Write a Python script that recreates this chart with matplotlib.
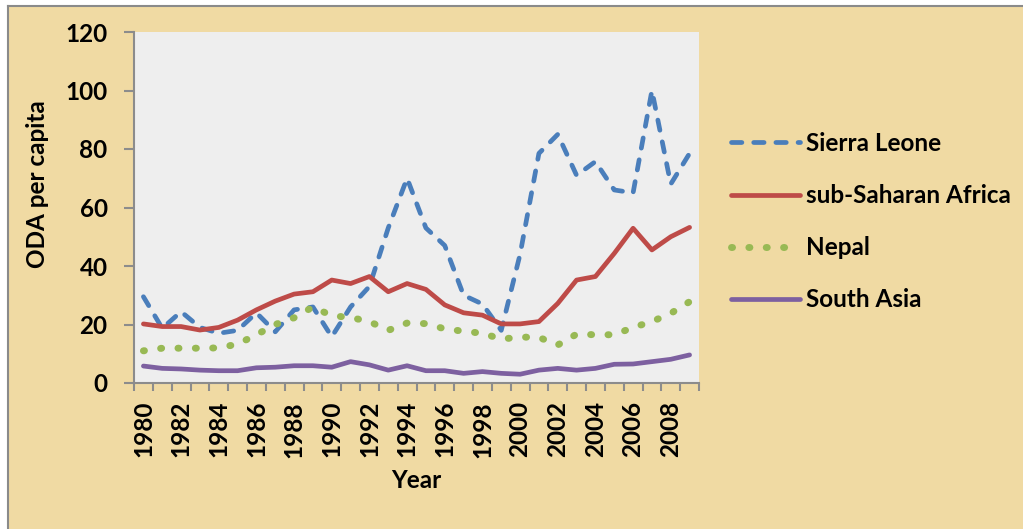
import matplotlib
matplotlib.use("Agg")
import matplotlib.pyplot as plt
from matplotlib.patches import Rectangle
import numpy as np

# ODA per capita, 1980-2009
years = list(range(1980, 2010))
sierra_leone = [29.5, 18.7, 24.4, 19, 17, 18, 24, 17.5, 25, 26,
                15.8, 26, 33, 53, 70, 53, 47, 30, 27, 18,
                44, 78.5, 85, 71, 75.7, 66, 65, 100, 68, 78.5]
sub_saharan_africa = [20.2, 19.3, 19.3, 18.1, 19, 21.5, 25, 28, 30.4, 31.2,
                      35.2, 34, 36.4, 31.2, 34, 32, 26.7, 24, 23.2, 20.2,
                      20.2, 21, 27.2, 35.2, 36.4, 44.3, 52.9, 45.5, 50, 53.2]
nepal = [11, 11.9, 11.9, 11.9, 12, 13.3, 16.5, 20, 22.3, 26,
         23, 22.4, 21, 18, 20.5, 20.3, 18.5, 17.7, 17, 15,
         15.7, 15.6, 13, 16.7, 16.5, 16.5, 19, 21, 23.8, 27.8]
south_asia = [5.8, 5, 4.8, 4.4, 4.2, 4.2, 5.2, 5.4, 5.9, 5.9,
              5.4, 7.3, 6.2, 4.4, 5.9, 4.2, 4.2, 3.3, 3.9, 3.3,
              3.0, 4.4, 5.0, 4.4, 5.0, 6.4, 6.5, 7.3, 8.1, 9.6]
series_names = ["Sierra Leone", "sub-Saharan Africa", "Nepal", "South Asia"]
y_ticks = [0, 20, 40, 60, 80, 100, 120]

PARCHMENT = "#F0DAA3"
PLOT_BG = "#EEEEEE"
AXIS_GREY = "#8C8C8C"
FONT = "Lato"
FS = 17.5

plt.rcParams["font.family"] = [FONT, "DejaVu Sans"]
plt.rcParams["font.weight"] = "bold"

W, H = 1023, 529
fig = plt.figure(figsize=(W / 100, H / 100), dpi=100, facecolor="white")

# parchment panel with a thin grey frame on the top and left
fig.patches.append(Rectangle((7.5 / W, 0), 1 - 7.5 / W, 1 - 5.5 / H,
                             transform=fig.transFigure, facecolor=PARCHMENT,
                             edgecolor="none", zorder=-10))
fig.add_artist(plt.Line2D([7.5 / W, 7.5 / W], [0, 1 - 5.5 / H],
                          transform=fig.transFigure, color="#8A8A8A", lw=1.5,
                          zorder=-9))
fig.add_artist(plt.Line2D([7.5 / W, 1], [1 - 5.5 / H, 1 - 5.5 / H],
                          transform=fig.transFigure, color="#8A8A8A", lw=1.5,
                          zorder=-9))

left, right, top, bottom = 134, 699, 32, 383
ax = fig.add_axes([left / W, 1 - bottom / H, (right - left) / W, (bottom - top) / H])
ax.set_facecolor(PLOT_BG)

x = np.arange(len(years))
lw = 3.4
ax.plot(x, sierra_leone, color="#4A7EBB", lw=lw, linestyle=(0, (2.2, 2.5)),
        dash_capstyle="round", solid_joinstyle="round", label=series_names[0], zorder=3)
ax.plot(x, sub_saharan_africa, color="#BE4B48", lw=lw, solid_joinstyle="round",
        solid_capstyle="round", label=series_names[1], zorder=3)
ax.plot(x, nepal, color="#98B954", lw=5.0, linestyle=(0, (0.15, 2.35)),
        dash_capstyle="round", label=series_names[2], zorder=3)
ax.plot(x, south_asia, color="#7D60A0", lw=lw, solid_joinstyle="round",
        solid_capstyle="round", label=series_names[3], zorder=3)

ax.set_xlim(-0.5, len(years) - 0.5)
ax.set_ylim(0, 120)
ax.set_yticks(y_ticks)
ax.set_yticklabels([str(v) for v in y_ticks], fontsize=FS, fontweight="bold")

ax.set_xticks(x[::2])
ax.set_xticklabels([str(y) for y in years[::2]], rotation=90, fontsize=FS,
                   fontweight="bold")
ax.set_xticks(np.arange(len(years) + 1) - 0.5, minor=True)
ax.tick_params(axis="x", which="major", length=0, pad=13)
ax.tick_params(axis="x", which="minor", length=6, width=1.5, color=AXIS_GREY,
               direction="out")
ax.tick_params(axis="y", length=7, width=1.5, color=AXIS_GREY, pad=12)

for side in ("top", "right"):
    ax.spines[side].set_visible(False)
for side in ("left", "bottom"):
    ax.spines[side].set_color(AXIS_GREY)
    ax.spines[side].set_linewidth(1.5)

fig.text(38 / W, 1 - 184 / H, "ODA per capita", rotation=90, ha="center",
         va="center", fontsize=FS, fontweight="bold")
fig.text(416 / W, 1 - 480 / H, "Year", ha="center", va="center",
         fontsize=FS, fontweight="bold")

leg = ax.legend(loc="upper left", bbox_to_anchor=(709 / W, 1 - 110 / H),
                bbox_transform=fig.transFigure, frameon=False,
                prop={"family": FONT, "weight": "bold", "size": FS},
                handlelength=2.85, handletextpad=0.25, labelspacing=1.2)

fig.savefig("out.png", dpi=100, facecolor="white")
